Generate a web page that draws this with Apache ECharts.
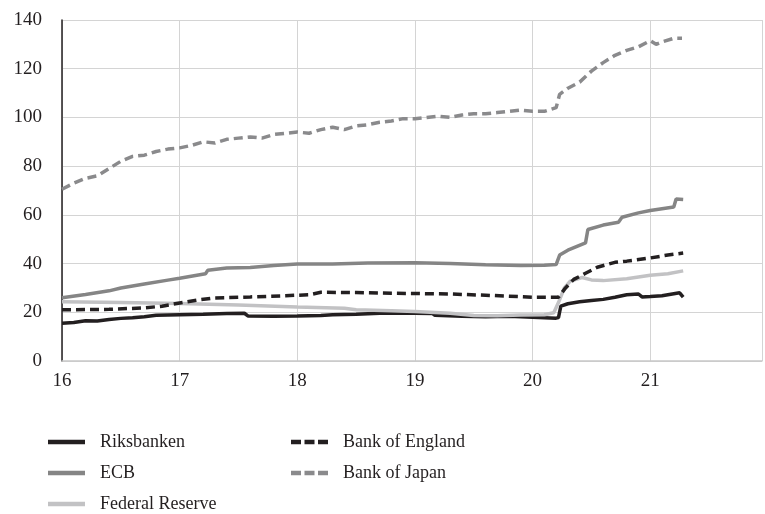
<!DOCTYPE html>
<html><head><meta charset="utf-8">
<script src="https://cdn.jsdelivr.net/npm/echarts@6/dist/echarts.min.js"></script>
<style>html,body{margin:0;padding:0;background:#fff}#c{width:765px;height:514px}</style>
</head><body><div id="c"></div>
<script>
const xTicks = [16, 17, 18, 19, 20, 21];
const yTicks = [0, 20, 40, 60, 80, 100, 120, 140];
const seriesNames = ['Riksbanken', 'ECB', 'Federal Reserve', 'Bank of England', 'Bank of Japan'];

const riksbanken = [[16.0,15.5],[16.1,15.8],[16.2,16.5],[16.3,16.4],[16.4,17.0],[16.5,17.5],[16.6,17.8],[16.7,18.2],[16.8,18.8],[16.9,18.9],[17.0,19.0],[17.2,19.2],[17.4,19.5],[17.55,19.6],[17.58,18.5],[17.8,18.4],[18.0,18.5],[18.2,18.7],[18.3,19.0],[18.5,19.2],[18.7,19.6],[19.0,19.6],[19.15,19.5],[19.17,18.8],[19.4,18.4],[19.6,18.2],[19.8,18.4],[20.0,18.0],[20.2,17.6],[20.22,17.8],[20.24,22.5],[20.3,23.5],[20.4,24.3],[20.5,24.8],[20.6,25.3],[20.7,26.2],[20.8,27.2],[20.9,27.5],[20.93,26.3],[21.0,26.5],[21.1,26.8],[21.2,27.6],[21.25,28.0],[21.28,26.2]];
const ecb = [[16.0,26.0],[16.2,27.3],[16.4,28.8],[16.5,30.0],[16.7,31.6],[16.9,33.2],[17.0,34.0],[17.22,35.8],[17.24,37.3],[17.4,38.2],[17.6,38.4],[17.8,39.2],[18.0,39.8],[18.3,39.8],[18.6,40.2],[19.0,40.3],[19.3,40.0],[19.6,39.5],[19.9,39.2],[20.1,39.3],[20.2,39.6],[20.23,43.5],[20.3,45.5],[20.45,48.5],[20.47,54.0],[20.6,55.8],[20.73,57.0],[20.76,59.0],[20.9,60.8],[21.0,61.8],[21.2,63.2],[21.22,66.5],[21.28,66.3]];
const federalReserve = [[16.0,24.3],[16.5,24.0],[17.0,23.6],[17.5,23.0],[18.0,22.2],[18.4,21.7],[18.5,21.0],[18.8,20.6],[19.0,20.3],[19.3,19.6],[19.5,18.7],[19.7,18.6],[19.9,18.9],[20.1,19.0],[20.18,19.8],[20.22,24.0],[20.27,30.0],[20.32,32.8],[20.42,34.3],[20.5,33.3],[20.6,33.0],[20.8,33.8],[21.0,35.2],[21.15,35.8],[21.28,37.0]];
const bankOfEngland = [[16.0,21.0],[16.4,21.2],[16.7,21.8],[16.85,22.5],[17.0,23.8],[17.15,25.0],[17.3,25.9],[17.6,26.3],[17.9,26.8],[18.1,27.2],[18.2,28.2],[18.5,28.1],[18.8,27.8],[19.0,27.7],[19.3,27.5],[19.6,27.0],[19.8,26.6],[20.0,26.2],[20.22,26.2],[20.28,30.0],[20.35,33.5],[20.45,36.0],[20.55,38.5],[20.7,40.5],[20.8,41.0],[21.0,42.3],[21.15,43.5],[21.28,44.3]];
const bankOfJapan = [[16.0,70.5],[16.1,73.0],[16.2,75.0],[16.3,76.0],[16.4,79.0],[16.5,82.0],[16.6,84.0],[16.7,84.5],[16.8,86.0],[16.9,87.0],[17.0,87.5],[17.1,88.5],[17.2,90.0],[17.3,89.5],[17.4,91.0],[17.5,91.5],[17.6,92.0],[17.7,91.5],[17.8,93.0],[17.9,93.5],[18.0,94.0],[18.1,93.5],[18.2,95.0],[18.3,96.0],[18.4,95.0],[18.5,96.5],[18.6,97.0],[18.7,98.0],[18.8,98.5],[18.9,99.5],[19.0,99.5],[19.1,100.0],[19.2,100.5],[19.3,100.0],[19.4,101.0],[19.5,101.5],[19.6,101.5],[19.7,102.0],[19.8,102.5],[19.9,103.0],[20.0,102.5],[20.1,102.5],[20.2,104.0],[20.23,109.5],[20.3,112.0],[20.4,114.5],[20.5,119.0],[20.6,122.5],[20.7,125.5],[20.8,127.5],[20.9,129.0],[21.0,131.5],[21.05,130.0],[21.1,131.0],[21.2,132.5],[21.27,132.5]];

const font = '"Liberation Serif", "DejaVu Serif", serif';
const txt = '#231f20';
const solidIcon = 'path://M0,0h37v4.5h-37z';
const dashIcon = 'path://M0,0h10v4.5h-10z M13.5,0h10v4.5h-10z M27,0h10v4.5h-10z';
const chart = echarts.init(document.getElementById('c'), null, {renderer: 'canvas'});

function mk(name, data, color, dashed) {
  return {
    name, type: 'line', data, showSymbol: false, symbol: 'none',
    lineStyle: {color, width: 3.5, type: dashed ? [9, 5] : 'solid', cap: 'butt'},
    itemStyle: {color}, animation: false
  };
}

function lg(name, icon, left, top) {
  return {
    data: [{name, icon}], orient: 'horizontal', left, top, padding: 0,
    itemWidth: 37, itemHeight: 4.5,
    textStyle: {color: txt, fontFamily: font, fontSize: 18, padding: [0, 0, 0, 10]}
  };
}

chart.setOption({
  animation: false,
  grid: {left: 62, right: 0, top: 20, bottom: 153},
  xAxis: {
    type: 'value', min: 16, max: 21.95, interval: 1,
    axisLine: {show: true, lineStyle: {color: '#c8c8c8', width: 1.5}},
    axisTick: {show: false},
    splitLine: {show: true, lineStyle: {color: '#d4d4d4', width: 1}},
    axisLabel: {color: txt, fontFamily: font, fontSize: 19, margin: 11,
      formatter: v => (xTicks.indexOf(v) >= 0 ? String(v) : '')}
  },
  yAxis: {
    type: 'value', min: 0, max: 140, interval: 20,
    axisLine: {show: true, lineStyle: {color: '#231f20', width: 1.5}},
    axisTick: {show: false},
    splitLine: {show: true, lineStyle: {color: '#d4d4d4', width: 1}},
    axisLabel: {color: txt, fontFamily: font, fontSize: 19, margin: 20,
      formatter: v => (yTicks.indexOf(v) >= 0 ? String(v) : '')}
  },
  legend: [
    lg(seriesNames[0], solidIcon, 48, 433),
    lg(seriesNames[1], solidIcon, 48, 464),
    lg(seriesNames[2], solidIcon, 48, 495),
    lg(seriesNames[3], dashIcon, 291, 433),
    lg(seriesNames[4], dashIcon, 291, 464)
  ],
  series: [
    mk(seriesNames[0], riksbanken, '#231f20', false),
    mk(seriesNames[1], ecb, '#858585', false),
    mk(seriesNames[2], federalReserve, '#c2c2c4', false),
    mk(seriesNames[3], bankOfEngland, '#231f20', true),
    mk(seriesNames[4], bankOfJapan, '#8a8a8c', true)
  ]
});
</script></body></html>
